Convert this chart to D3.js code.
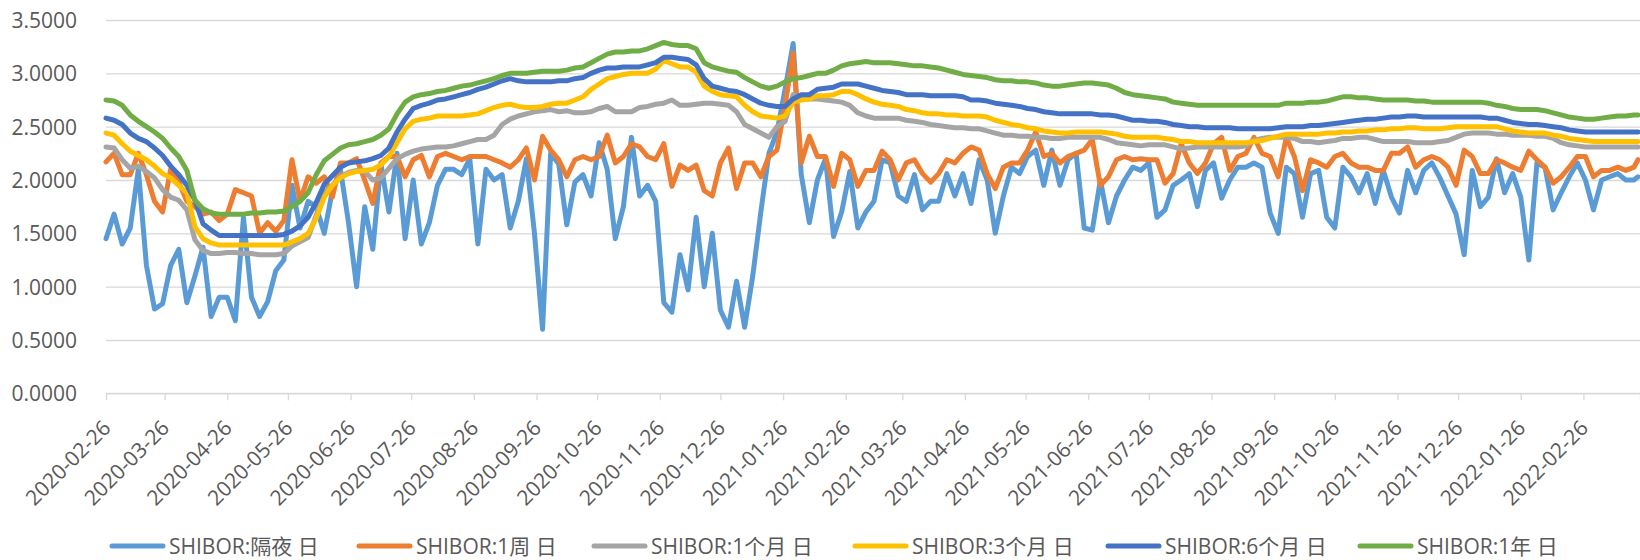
<!DOCTYPE html>
<html>
<head>
<meta charset="utf-8">
<script src="https://cdn.jsdelivr.net/npm/d3@7"></script>
<style>
  html, body { margin: 0; padding: 0; background: #fff; }
  svg { display: block; }
  text { font-family: "Open Sans", "Noto Sans CJK SC", sans-serif; fill: #595959; }
</style>
</head>
<body>
<svg id="chart" width="1640" height="560"></svg>
<script>
// Sampling dates (every fourth calendar day, last fixing 2022-03-25)
const dates = [
  "2020-02-26","2020-03-01","2020-03-05","2020-03-09","2020-03-13","2020-03-17","2020-03-21","2020-03-25","2020-03-29","2020-04-02",
  "2020-04-06","2020-04-10","2020-04-14","2020-04-18","2020-04-22","2020-04-26","2020-04-30","2020-05-04","2020-05-08","2020-05-12",
  "2020-05-16","2020-05-20","2020-05-24","2020-05-28","2020-06-01","2020-06-05","2020-06-09","2020-06-13","2020-06-17","2020-06-21",
  "2020-06-25","2020-06-29","2020-07-03","2020-07-07","2020-07-11","2020-07-15","2020-07-19","2020-07-23","2020-07-27","2020-07-31",
  "2020-08-04","2020-08-08","2020-08-12","2020-08-16","2020-08-20","2020-08-24","2020-08-28","2020-09-01","2020-09-05","2020-09-09",
  "2020-09-13","2020-09-17","2020-09-21","2020-09-25","2020-09-29","2020-10-03","2020-10-07","2020-10-11","2020-10-15","2020-10-19",
  "2020-10-23","2020-10-27","2020-10-31","2020-11-04","2020-11-08","2020-11-12","2020-11-16","2020-11-20","2020-11-24","2020-11-28",
  "2020-12-02","2020-12-06","2020-12-10","2020-12-14","2020-12-18","2020-12-22","2020-12-26","2020-12-30","2021-01-03","2021-01-07",
  "2021-01-11","2021-01-15","2021-01-19","2021-01-23","2021-01-27","2021-01-31","2021-02-04","2021-02-08","2021-02-12","2021-02-16",
  "2021-02-20","2021-02-24","2021-02-28","2021-03-04","2021-03-08","2021-03-12","2021-03-16","2021-03-20","2021-03-24","2021-03-28",
  "2021-04-01","2021-04-05","2021-04-09","2021-04-13","2021-04-17","2021-04-21","2021-04-25","2021-04-29","2021-05-03","2021-05-07",
  "2021-05-11","2021-05-15","2021-05-19","2021-05-23","2021-05-27","2021-05-31","2021-06-04","2021-06-08","2021-06-12","2021-06-16",
  "2021-06-20","2021-06-24","2021-06-28","2021-07-02","2021-07-06","2021-07-10","2021-07-14","2021-07-18","2021-07-22","2021-07-26",
  "2021-07-30","2021-08-03","2021-08-07","2021-08-11","2021-08-15","2021-08-19","2021-08-23","2021-08-27","2021-08-31","2021-09-04",
  "2021-09-08","2021-09-12","2021-09-16","2021-09-20","2021-09-24","2021-09-28","2021-10-02","2021-10-06","2021-10-10","2021-10-14",
  "2021-10-18","2021-10-22","2021-10-26","2021-10-30","2021-11-03","2021-11-07","2021-11-11","2021-11-15","2021-11-19","2021-11-23",
  "2021-11-27","2021-12-01","2021-12-05","2021-12-09","2021-12-13","2021-12-17","2021-12-21","2021-12-25","2021-12-29","2022-01-02",
  "2022-01-06","2022-01-10","2022-01-14","2022-01-18","2022-01-22","2022-01-26","2022-01-30","2022-02-03","2022-02-07","2022-02-11",
  "2022-02-15","2022-02-19","2022-02-23","2022-02-27","2022-03-03","2022-03-07","2022-03-11","2022-03-15","2022-03-19","2022-03-23",
  "2022-03-25"
];

// SHIBOR overnight
const shiborON = [
  1.45,1.68,1.40,1.55,2.10,1.20,0.79,0.84,1.20,1.35,
  0.85,1.10,1.37,0.72,0.90,0.90,0.68,1.65,0.90,0.72,
  0.86,1.15,1.25,1.95,1.55,1.80,1.75,1.50,1.90,2.10,
  1.60,1.00,1.75,1.35,2.15,1.70,2.25,1.45,2.00,1.40,
  1.60,1.95,2.10,2.10,2.05,2.20,1.40,2.10,2.00,2.05,
  1.55,1.80,2.20,1.50,0.60,2.25,2.15,1.58,1.98,2.05,
  1.85,2.35,2.10,1.45,1.75,2.40,1.85,1.95,1.80,0.85,
  0.76,1.30,0.97,1.65,1.00,1.50,0.78,0.62,1.05,0.62,
  1.10,1.70,2.25,2.45,2.85,3.28,2.05,1.60,2.00,2.20,
  1.47,1.70,2.08,1.55,1.70,1.80,2.19,2.16,1.85,1.80,
  2.05,1.72,1.80,1.80,2.06,1.85,2.06,1.78,2.19,2.00,
  1.50,1.85,2.12,2.06,2.22,2.28,1.95,2.28,1.95,2.19,
  2.25,1.55,1.53,2.00,1.60,1.85,2.00,2.12,2.09,2.16,
  1.65,1.72,1.95,2.00,2.06,1.75,2.09,2.16,1.83,2.00,
  2.12,2.12,2.16,2.12,1.69,1.50,2.12,2.06,1.65,2.06,
  2.09,1.65,1.55,2.12,2.03,1.88,2.06,1.78,2.09,1.84,
  1.69,2.09,1.88,2.09,2.16,2.02,1.85,1.68,1.30,2.09,
  1.75,1.84,2.20,1.88,2.06,1.84,1.25,2.16,2.12,1.72,
  1.88,2.03,2.16,2.00,1.72,2.00,2.03,2.06,2.00,2.00,2.03
];

// SHIBOR 1 week
const shibor1W = [
  2.17,2.25,2.05,2.05,2.25,2.05,1.80,1.70,2.10,1.98,
  1.80,1.75,1.68,1.70,1.62,1.68,1.91,1.88,1.85,1.50,
  1.60,1.52,1.62,2.19,1.80,2.03,1.97,2.03,1.84,2.16,
  2.16,2.20,2.00,1.78,2.16,2.22,2.22,2.03,2.19,2.23,
  2.03,2.22,2.25,2.22,2.19,2.22,2.22,2.22,2.19,2.16,
  2.12,2.19,2.30,2.00,2.41,2.28,2.19,2.03,2.19,2.22,
  2.19,2.22,2.42,2.16,2.22,2.34,2.31,2.22,2.19,2.34,
  1.94,2.14,2.09,2.14,1.90,1.85,2.16,2.30,1.92,2.16,
  2.16,2.03,2.22,2.28,2.70,3.19,2.16,2.41,2.22,2.22,
  1.94,2.25,2.19,1.94,2.09,2.09,2.27,2.19,2.00,2.16,
  2.19,2.06,1.98,2.06,2.19,2.16,2.25,2.31,2.28,2.06,
  1.92,2.12,2.16,2.16,2.28,2.45,2.22,2.25,2.16,2.22,
  2.25,2.28,2.38,1.95,2.03,2.19,2.22,2.19,2.20,2.19,
  2.19,1.97,2.06,2.34,2.16,2.06,2.16,2.34,2.40,2.09,
  2.22,2.25,2.40,2.25,2.22,2.03,2.40,2.22,1.90,2.19,
  2.16,2.12,2.22,2.25,2.16,2.12,2.12,2.09,2.09,2.25,
  2.25,2.31,2.12,2.19,2.22,2.19,2.12,1.95,2.28,2.22,
  2.06,2.06,2.19,2.16,2.12,2.09,2.27,2.19,2.12,1.97,
  2.03,2.12,2.22,2.22,2.03,2.09,2.09,2.12,2.09,2.12,2.19
];

// SHIBOR 1 month
const shibor1M = [
  2.31,2.30,2.19,2.11,2.13,2.08,2.02,1.91,1.84,1.81,
  1.72,1.44,1.34,1.31,1.31,1.32,1.32,1.31,1.31,1.30,
  1.30,1.30,1.31,1.38,1.42,1.46,1.67,1.88,1.95,2.03,
  2.07,2.09,2.08,2.00,2.02,2.11,2.20,2.24,2.27,2.29,
  2.30,2.31,2.31,2.32,2.34,2.36,2.38,2.38,2.42,2.52,
  2.57,2.60,2.62,2.64,2.65,2.66,2.64,2.65,2.63,2.63,
  2.64,2.67,2.69,2.64,2.64,2.64,2.68,2.69,2.71,2.72,
  2.75,2.70,2.70,2.71,2.72,2.72,2.71,2.70,2.64,2.52,
  2.48,2.44,2.40,2.50,2.55,2.80,2.76,2.76,2.76,2.75,
  2.74,2.73,2.70,2.63,2.60,2.58,2.58,2.58,2.58,2.56,
  2.55,2.54,2.52,2.51,2.50,2.49,2.49,2.48,2.48,2.46,
  2.44,2.42,2.42,2.41,2.41,2.40,2.40,2.39,2.39,2.40,
  2.40,2.40,2.40,2.40,2.38,2.35,2.34,2.33,2.32,2.33,
  2.33,2.33,2.31,2.29,2.30,2.31,2.31,2.31,2.31,2.31,
  2.31,2.32,2.37,2.39,2.40,2.40,2.40,2.39,2.36,2.36,
  2.35,2.36,2.37,2.39,2.39,2.40,2.40,2.38,2.36,2.36,
  2.36,2.36,2.35,2.35,2.35,2.36,2.37,2.40,2.43,2.44,
  2.44,2.44,2.43,2.43,2.42,2.42,2.42,2.41,2.41,2.39,
  2.35,2.33,2.32,2.31,2.31,2.31,2.31,2.31,2.31,2.31,2.31
];

// SHIBOR 3 months
const shibor3M = [
  2.44,2.42,2.34,2.27,2.23,2.19,2.13,2.06,2.02,1.95,
  1.88,1.56,1.45,1.41,1.39,1.39,1.39,1.39,1.39,1.39,
  1.39,1.39,1.39,1.42,1.45,1.50,1.64,1.84,1.95,2.02,
  2.06,2.08,2.09,2.10,2.14,2.22,2.35,2.48,2.55,2.57,
  2.58,2.60,2.60,2.60,2.60,2.61,2.62,2.65,2.68,2.70,
  2.71,2.69,2.68,2.68,2.69,2.71,2.72,2.72,2.75,2.78,
  2.85,2.90,2.95,2.97,2.99,3.00,3.00,3.00,3.04,3.12,
  3.09,3.06,3.06,3.01,2.88,2.83,2.80,2.79,2.78,2.70,
  2.64,2.60,2.59,2.58,2.60,2.73,2.75,2.76,2.79,2.79,
  2.80,2.83,2.83,2.80,2.76,2.73,2.71,2.70,2.69,2.66,
  2.65,2.63,2.62,2.62,2.61,2.61,2.60,2.60,2.60,2.59,
  2.56,2.54,2.52,2.51,2.49,2.48,2.46,2.45,2.44,2.44,
  2.45,2.45,2.45,2.45,2.44,2.43,2.41,2.40,2.40,2.40,
  2.40,2.39,2.38,2.36,2.36,2.35,2.35,2.35,2.35,2.35,
  2.35,2.35,2.36,2.37,2.39,2.41,2.43,2.43,2.43,2.43,
  2.43,2.44,2.44,2.45,2.45,2.46,2.46,2.47,2.47,2.48,
  2.48,2.49,2.49,2.48,2.48,2.48,2.49,2.50,2.50,2.50,
  2.50,2.50,2.50,2.48,2.46,2.45,2.44,2.44,2.44,2.42,
  2.41,2.39,2.38,2.37,2.36,2.36,2.36,2.36,2.36,2.36,2.36
];

// SHIBOR 6 months
const shibor6M = [
  2.58,2.56,2.52,2.44,2.39,2.36,2.30,2.23,2.13,2.05,
  1.95,1.81,1.59,1.53,1.48,1.48,1.48,1.48,1.48,1.48,
  1.48,1.48,1.49,1.52,1.57,1.65,1.79,1.96,2.04,2.12,
  2.16,2.17,2.18,2.20,2.23,2.30,2.45,2.57,2.67,2.70,
  2.72,2.75,2.76,2.78,2.80,2.82,2.85,2.87,2.90,2.93,
  2.95,2.93,2.92,2.92,2.92,2.92,2.93,2.93,2.95,2.96,
  3.00,3.03,3.05,3.05,3.06,3.06,3.06,3.08,3.10,3.15,
  3.15,3.14,3.13,3.08,2.95,2.88,2.86,2.84,2.83,2.80,
  2.76,2.72,2.70,2.69,2.69,2.76,2.80,2.80,2.85,2.86,
  2.87,2.90,2.90,2.90,2.88,2.86,2.84,2.83,2.82,2.80,
  2.80,2.80,2.79,2.79,2.79,2.79,2.78,2.75,2.75,2.74,
  2.72,2.71,2.70,2.69,2.67,2.66,2.64,2.63,2.62,2.62,
  2.62,2.62,2.62,2.61,2.61,2.60,2.58,2.56,2.56,2.55,
  2.55,2.54,2.52,2.51,2.50,2.50,2.49,2.49,2.49,2.49,
  2.48,2.48,2.48,2.48,2.48,2.49,2.50,2.50,2.50,2.51,
  2.51,2.52,2.53,2.54,2.55,2.56,2.57,2.57,2.58,2.59,
  2.59,2.60,2.60,2.59,2.59,2.59,2.59,2.59,2.59,2.59,
  2.59,2.58,2.58,2.56,2.54,2.53,2.52,2.52,2.51,2.50,
  2.49,2.47,2.46,2.45,2.45,2.45,2.45,2.45,2.45,2.45,2.45
];

// SHIBOR 1 year
const shibor1Y = [
  2.75,2.74,2.70,2.61,2.55,2.50,2.45,2.39,2.30,2.22,
  2.09,1.81,1.73,1.69,1.68,1.68,1.68,1.68,1.69,1.69,
  1.70,1.70,1.71,1.75,1.80,1.88,2.05,2.18,2.24,2.30,
  2.33,2.34,2.36,2.38,2.42,2.48,2.62,2.73,2.78,2.80,
  2.81,2.83,2.84,2.86,2.88,2.89,2.91,2.93,2.95,2.98,
  3.00,3.00,3.00,3.01,3.02,3.02,3.02,3.03,3.05,3.06,
  3.10,3.14,3.18,3.20,3.20,3.21,3.21,3.23,3.26,3.29,
  3.27,3.26,3.26,3.23,3.10,3.06,3.04,3.02,3.01,2.96,
  2.92,2.88,2.86,2.88,2.92,2.95,2.96,2.98,3.00,3.00,
  3.03,3.07,3.09,3.10,3.11,3.10,3.10,3.10,3.09,3.08,
  3.07,3.07,3.06,3.05,3.03,3.01,2.99,2.98,2.97,2.96,
  2.94,2.93,2.93,2.92,2.92,2.91,2.89,2.88,2.88,2.89,
  2.90,2.91,2.91,2.90,2.89,2.86,2.82,2.80,2.79,2.78,
  2.77,2.76,2.73,2.72,2.71,2.70,2.70,2.70,2.70,2.70,
  2.70,2.70,2.70,2.70,2.70,2.70,2.72,2.72,2.72,2.73,
  2.73,2.74,2.76,2.78,2.78,2.77,2.77,2.76,2.75,2.75,
  2.75,2.75,2.74,2.74,2.73,2.73,2.73,2.73,2.73,2.73,
  2.73,2.72,2.70,2.69,2.67,2.66,2.66,2.66,2.65,2.63,
  2.61,2.59,2.58,2.57,2.57,2.58,2.59,2.60,2.60,2.61,2.61
];

const seriesNames = ["SHIBOR:隔夜 日", "SHIBOR:1周 日", "SHIBOR:1个月 日", "SHIBOR:3个月 日", "SHIBOR:6个月 日", "SHIBOR:1年 日"];
const seriesValues = [shiborON, shibor1W, shibor1M, shibor3M, shibor6M, shibor1Y];
const seriesColors = ["#5B9BD5", "#ED7D31", "#A5A5A5", "#FFC000", "#4472C4", "#70AD47"];

// Axis tick labels
const xTickLabels = [
  "2020-02-26","2020-03-26","2020-04-26","2020-05-26","2020-06-26","2020-07-26","2020-08-26",
  "2020-09-26","2020-10-26","2020-11-26","2020-12-26","2021-01-26","2021-02-26","2021-03-26",
  "2021-04-26","2021-05-26","2021-06-26","2021-07-26","2021-08-26","2021-09-26","2021-10-26",
  "2021-11-26","2021-12-26","2022-01-26","2022-02-26"
];
const xAxisEnd = "2022-03-26";
const yTicks = [0, 0.5, 1.0, 1.5, 2.0, 2.5, 3.0, 3.5];

// ---- layout ----
const plot = { left: 106, right: 1640, top: 20, bottom: 393.33 };
const parse = d3.utcParse("%Y-%m-%d");
const fmt = d3.utcFormat("%Y-%m-%d");

const x = d3.scaleUtc()
  .domain([parse(xTickLabels[0]), parse(xAxisEnd)])
  .range([plot.left, plot.right]);
const y = d3.scaleLinear()
  .domain([0, 3.5])
  .range([plot.bottom, plot.top]);

const svg = d3.select("#chart");

// horizontal gridlines
const grid = svg.append("g")
  .attr("transform", `translate(${plot.left},0)`)
  .call(d3.axisLeft(y).tickValues(yTicks).tickSize(-(plot.right - plot.left)).tickFormat(""));
grid.select(".domain").remove();
grid.selectAll("line").attr("stroke", "#D9D9D9").attr("stroke-width", 1.3);

// y axis labels
const yAxis = svg.append("g")
  .attr("transform", `translate(${plot.left},0)`)
  .call(d3.axisLeft(y).tickValues(yTicks).tickSize(0).tickPadding(29).tickFormat(d3.format(".4f")));
yAxis.select(".domain").remove();
yAxis.selectAll("text")
  .attr("font-size", 21)
  .attr("font-family", null)
  .attr("fill", "#595959")
  .attr("dy", "0.36em");

// x axis: monthly ticks on the 26th
const labelSet = new Set(xTickLabels);
const xTickDates = xTickLabels.map(parse).concat([parse(xAxisEnd)]);
const xAxis = svg.append("g")
  .attr("transform", `translate(0,${plot.bottom})`)
  .call(d3.axisBottom(x).tickValues(xTickDates).tickSize(7)
    .tickFormat(d => labelSet.has(fmt(d)) ? fmt(d) : ""));
xAxis.select(".domain")
  .attr("stroke", "#D9D9D9").attr("stroke-width", 1.3)
  .attr("d", `M${plot.left},0H${plot.right}`);
xAxis.selectAll(".tick line").attr("stroke", "#D9D9D9").attr("stroke-width", 1.3);
xAxis.selectAll(".tick text")
  .attr("font-size", 21)
  .attr("font-family", null)
  .attr("fill", "#595959")
  .attr("text-anchor", "end")
  .attr("x", 0).attr("y", 0).attr("dy", 0)
  .attr("transform", "translate(5.5,36) rotate(-45)");

// series lines
const parsedDates = dates.map(parse);
const line = d3.line()
  .x((d, i) => x(parsedDates[i]))
  .y(d => y(d));

const lines = svg.append("g").attr("class", "series");
seriesValues.forEach((vals, k) => {
  lines.append("path")
    .datum(vals)
    .attr("fill", "none")
    .attr("stroke", seriesColors[k])
    .attr("stroke-width", 5)
    .attr("stroke-linejoin", "round")
    .attr("stroke-linecap", "round")
    .attr("d", line);
});

// legend
const legendX = [110, 357, 592, 853, 1106, 1358];
const legendY = 546;
const legend = svg.append("g").attr("class", "legend");
seriesNames.forEach((name, k) => {
  const g = legend.append("g").attr("transform", `translate(${legendX[k]},${legendY})`);
  g.append("line")
    .attr("x1", 2).attr("x2", 53).attr("y1", 0).attr("y2", 0)
    .attr("stroke", seriesColors[k]).attr("stroke-width", 5)
    .attr("stroke-linecap", "round");
  g.append("text")
    .attr("x", 59).attr("y", 7.5)
    .attr("font-size", 21)
    .text(name);
});
</script>
</body>
</html>
